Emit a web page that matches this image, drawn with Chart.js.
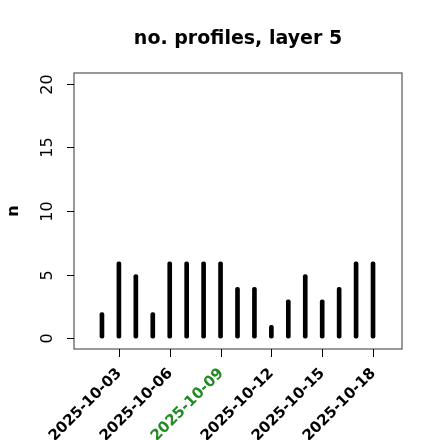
<!DOCTYPE html>
<html>
<head>
<meta charset="utf-8">
<script src="https://cdn.jsdelivr.net/npm/chart.js@4.4.1/dist/chart.umd.min.js"></script>
<style>
  html, body { margin: 0; padding: 0; background: #fff; }
</style>
</head>
<body>
<canvas id="profilesChart" width="440" height="440"></canvas>
<script>
// data
const days = ['2025-10-02', '2025-10-03', '2025-10-04', '2025-10-05', '2025-10-06', '2025-10-07',
              '2025-10-08', '2025-10-09', '2025-10-10', '2025-10-11', '2025-10-12', '2025-10-13',
              '2025-10-14', '2025-10-15', '2025-10-16', '2025-10-17', '2025-10-18'];
const profileCounts = [2, 6, 5, 2, 6, 6, 6, 6, 4, 4, 1, 3, 5, 3, 4, 6, 6];
const xTickDays = ['2025-10-03', '2025-10-06', '2025-10-09', '2025-10-12', '2025-10-15', '2025-10-18'];
const highlightDay = '2025-10-09';
const yTicks = [0, 5, 10, 15, 20];

const FONT = '"DejaVu Sans", Verdana, sans-serif';

// R-style frame, ticks and labels drawn off the chart scales
const baseGraphicsPlugin = {
    id: 'baseGraphics',
    afterDraw(chart) {
        const ctx = chart.ctx;
        const area = chart.chartArea;
        const xs = chart.scales.x;
        const ys = chart.scales.y;

        ctx.save();
        // box
        ctx.strokeStyle = '#555';
        ctx.lineWidth = 1.2;
        ctx.strokeRect(area.left, area.top, area.right - area.left, area.bottom - area.top);

        // y axis ticks + rotated labels
        ctx.strokeStyle = '#000';
        ctx.lineWidth = 1;
        ctx.fillStyle = '#000';
        ctx.font = '16px ' + FONT;
        yTicks.forEach(v => {
            const py = Math.round(ys.getPixelForValue(v)) + 0.5;
            ctx.beginPath();
            ctx.moveTo(area.left, py);
            ctx.lineTo(area.left - 7, py);
            ctx.stroke();
            ctx.save();
            ctx.translate(56, py);
            ctx.rotate(-Math.PI / 2);
            ctx.textAlign = 'center';
            ctx.textBaseline = 'bottom';
            ctx.fillText(String(v), 0, 0);
            ctx.restore();
        });

        // x axis ticks + 45 degree labels
        ctx.font = 'bold 15px ' + FONT;
        xTickDays.forEach(d => {
            const px = Math.round(xs.getPixelForValue(days.indexOf(d))) + 0.5;
            ctx.strokeStyle = '#000';
            ctx.beginPath();
            ctx.moveTo(px, area.bottom);
            ctx.lineTo(px, area.bottom + 8);
            ctx.stroke();
            ctx.save();
            ctx.translate(px, 371);
            ctx.rotate(-Math.PI / 4);
            ctx.textAlign = 'right';
            ctx.textBaseline = 'middle';
            ctx.fillStyle = d === highlightDay ? '#228B22' : '#000';
            ctx.fillText(d, 0, 0);
            ctx.restore();
        });

        // y axis title
        ctx.save();
        ctx.fillStyle = '#000';
        ctx.font = 'bold 16px ' + FONT;
        ctx.translate(22, (area.top + area.bottom) / 2);
        ctx.rotate(-Math.PI / 2);
        ctx.textAlign = 'center';
        ctx.textBaseline = 'bottom';
        ctx.fillText('n', 0, 0);
        ctx.restore();

        // main title
        ctx.fillStyle = '#000';
        ctx.font = 'bold 19px ' + FONT;
        ctx.textAlign = 'center';
        ctx.textBaseline = 'alphabetic';
        ctx.fillText('no. profiles, layer 5', (area.left + area.right) / 2, 44);
        ctx.restore();
    }
};

new Chart(document.getElementById('profilesChart'), {
    type: 'bar',
    data: {
        datasets: [{
            data: profileCounts.map((n, i) => ({ x: i, y: n })),
            backgroundColor: '#000',
            barThickness: 4,
            borderRadius: 2,
            borderSkipped: false
        }]
    },
    options: {
        responsive: false,
        animation: false,
        layout: { padding: { left: 74, top: 73, right: 38, bottom: 91 } },
        plugins: { legend: { display: false }, tooltip: { enabled: false } },
        scales: {
            x: { type: 'linear', display: false, offset: false, min: -1.65, max: 17.71 },
            y: { type: 'linear', display: false, min: -0.86, max: 20.86 }
        }
    },
    plugins: [baseGraphicsPlugin]
});
</script>
</body>
</html>
